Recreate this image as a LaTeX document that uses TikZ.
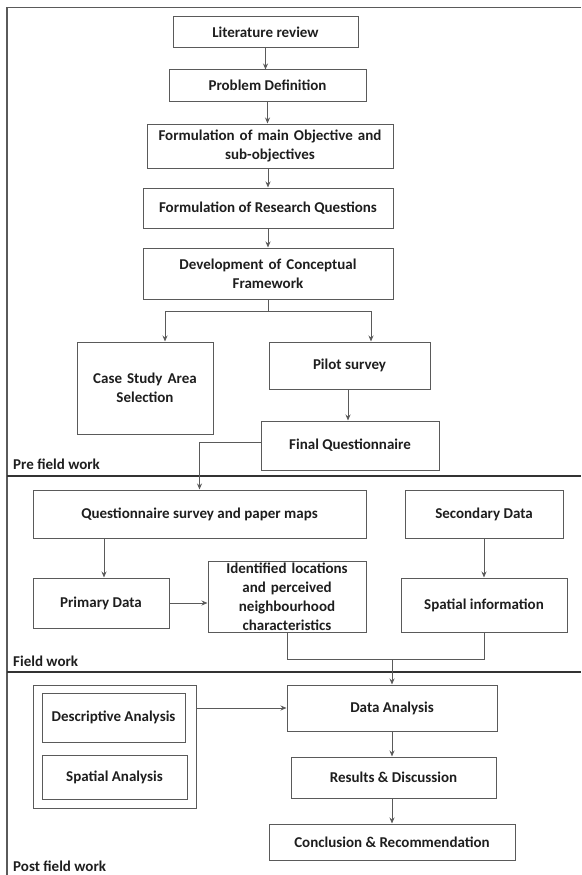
\documentclass[tikz,border=0pt]{standalone}
\usepackage{fontspec}
\setmainfont{Carlito}
\usetikzlibrary{arrows.meta}
\definecolor{boxline}{HTML}{5A5A5A}
\definecolor{txt}{HTML}{1E1E1E}
\begin{document}
\begin{tikzpicture}[x=1pt,y=-1pt,
  box/.style={draw=boxline,line width=1pt,inner sep=0pt,align=center,
    font=\bfseries\fontsize{15}{19}\selectfont,text=txt},
  arr/.style={draw=boxline,line width=0.9pt,-{Stealth[length=6pt,width=5pt]}},
  ln/.style={draw=boxline,line width=0.9pt},
  frame/.style={draw=boxline,line width=1.4pt},
  sep/.style={draw=black!80,line width=1.1pt},
  lab/.style={anchor=base west,inner sep=0pt,font=\bfseries\fontsize{15}{18}\selectfont,text=txt}]
\useasboundingbox (0,0) rectangle (581,875);
% frame and separators
\draw[frame] (581,7.3) -- (7,7.3) -- (7,875);
\draw[sep] (7,476) -- (581,476);
\draw[sep] (7,672) -- (581,672);
\node[lab] (pre) at (13,469) {Pre field work};
\node[lab] (field) at (13,666) {Field work};
\node[lab] (post) at (13,871) {Post field work};
% pre field work
\node[box,minimum width=185,minimum height=31] (lit) at (265.5,32.5) {Literature review};
\node[box,minimum width=197,minimum height=31] (prob) at (267.5,85.5) {Problem Definition};
\node[box,minimum width=246,minimum height=44,text width=246] (form) at (270,146) {Formulation of main Objective and\\sub-objectives};
\node[box,minimum width=250,minimum height=40] (rq) at (268,208) {Formulation of Research Questions};
\node[box,minimum width=250,minimum height=51,text width=246] (dev) at (268,273.5) {Development of Conceptual\\Framework};
\node[box,minimum width=136,minimum height=92,text width=132] (case) at (145,388) {Case Study Area\\Selection};
\node[box,minimum width=161,minimum height=47] (pilot) at (349.5,365.5) {Pilot survey};
\node[box,minimum width=178,minimum height=49] (finalq) at (350,445.5) {Final Questionnaire};
% field work
\node[box,minimum width=333,minimum height=48] (qs) at (199.5,514) {Questionnaire survey and paper maps};
\node[box,minimum width=158,minimum height=48] (sec) at (484,514) {Secondary Data};
\node[box,minimum width=136,minimum height=50] (prim) at (101,603) {Primary Data};
\node[box,minimum width=158,minimum height=71,text width=156] (ident) at (287,596.5) {Identified locations\\and perceived\\neighbourhood\\characteristics};
\node[box,minimum width=166,minimum height=54] (spat) at (484,605) {Spatial information};
% post field work
\node[box,minimum width=163,minimum height=123] (outer) at (114.5,746.5) {};
\node[box,minimum width=143,minimum height=49] (desc) at (113.5,717.5) {Descriptive Analysis};
\node[box,minimum width=145,minimum height=44] (spa) at (114.5,777) {Spatial Analysis};
\node[box,minimum width=210,minimum height=46] (da) at (392,708) {Data Analysis};
\node[box,minimum width=205,minimum height=41] (res) at (393.5,777.5) {Results \& Discussion};
\node[box,minimum width=246,minimum height=36] (conc) at (392,842) {Conclusion \& Recommendation};
% connectors
\draw[arr] (lit.south) -- (lit.south |- prob.north);
\draw[arr] (prob.south) -- (prob.south |- form.north);
\draw[arr] (rq.north |- form.south) -- (rq.north);
\draw[arr] (rq.south) -- (rq.south |- dev.north);
\coordinate (br) at (268,311);
\draw[ln] (dev.south) -- (br);
\draw[arr] (br) -| ([xshift=20]case.north);
\draw[arr] (br) -| ([xshift=21.5]pilot.north);
\draw[arr] (pilot.south -| 348,0) -- (finalq.north -| 348,0);
\draw[arr] ([yshift=3.5]finalq.west) -| (qs.north);
\draw[arr] ([xshift=3]prim.north |- qs.south) -- ([xshift=3]prim.north);
\draw[arr] (sec.south) -- (spat.north);
\draw[arr] (prim.east) -- (prim.east -| ident.west);
\coordinate (m) at (392,659);
\draw[ln] (ident.south) |- (m);
\draw[ln] (spat.south) |- (m);
\draw[arr] (m) -- (da.north);
\draw[arr] (outer.east |- da.west) -- (da.west);
\draw[arr] (da.south) -- (da.south |- res.north);
\draw[arr] (da.south |- res.south) -- (da.south |- conc.north);
\end{tikzpicture}
\end{document}
